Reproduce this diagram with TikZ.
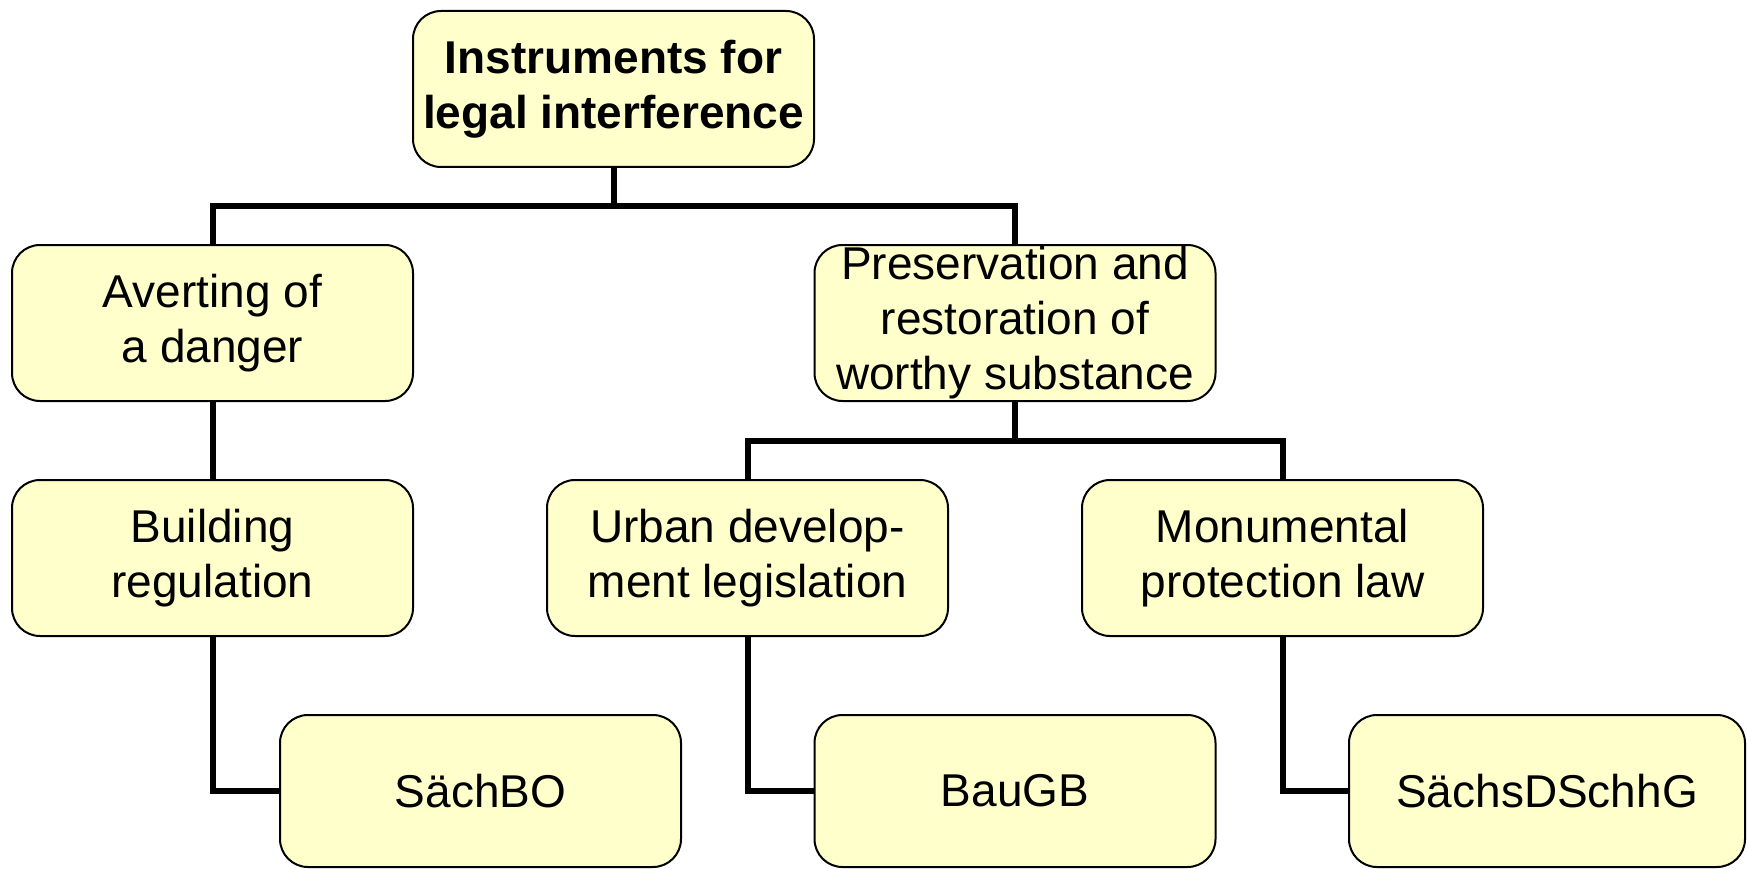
\documentclass[tikz,border=0pt]{standalone}
\usepackage{fontspec}
\setmainfont{Liberation Sans}
\begin{document}
\begin{tikzpicture}[x=1pt,y=-1pt,
  box/.style={draw=black, line width=2pt, fill=boxfill, rounded corners=28pt,
    minimum width=401pt, minimum height=156pt, inner sep=0pt, align=center,
    font=\fontsize{46}{55}\selectfont},
  leaf/.style={box, minimum height=152pt},
  conn/.style={draw=black, line width=6pt}]
\definecolor{boxfill}{HTML}{FFFFCC}
\useasboundingbox (0,0) rectangle (1747,869);
\node[box, font=\fontsize{46}{55}\selectfont\bfseries] (top) at (613.5,89) {Instruments for\\legal interference};
\node[box] (avert) at (212.5,323) {Averting of\\a danger};
\node[box] (pres) at (1015,323) {Preservation and\\restoration of\\worthy substance};
\node[box] (build) at (212.5,558) {Building\\regulation};
\node[box] (urban) at (747.5,558) {Urban develop-\\ment legislation};
\node[box] (monu) at (1282.5,558) {Monumental\\protection law};
\node[leaf] (sach) at (480.5,791) {SächBO};
\node[leaf] (bau) at (1015,791) {BauGB};
\node[leaf, minimum width=396pt] (sdsg) at (1547,791) {SächsDSchhG};
\coordinate (j1) at (613.5,206);
\coordinate (j2) at (1015,441);
\draw[conn] (top.south) -- (j1);
\draw[conn] (avert.north) |- (j1) -| (pres.north);
\draw[conn] (avert.south) -- (build.north);
\draw[conn] (pres.south) -- (j2);
\draw[conn] (urban.north) |- (j2) -| (monu.north);
\draw[conn] (build.south) |- (sach.west);
\draw[conn] (urban.south) |- (bau.west);
\draw[conn] (monu.south) |- (sdsg.west);
\end{tikzpicture}
\end{document}
